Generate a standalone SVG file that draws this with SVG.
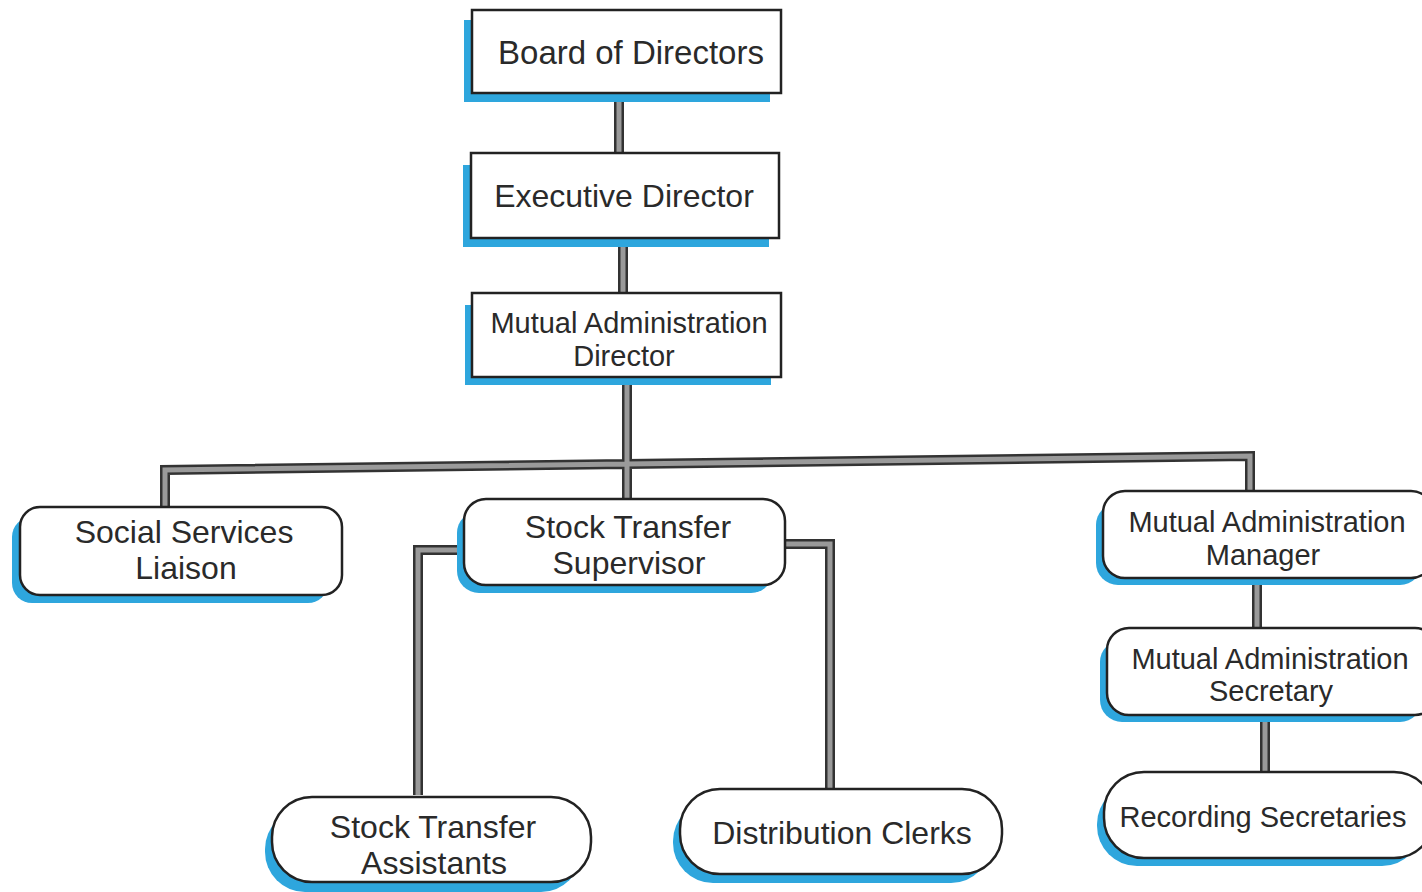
<svg xmlns="http://www.w3.org/2000/svg" width="1422" height="892" viewBox="0 0 1422 892">
<style>
.sh{fill:#2ea6dd}
.bx{fill:#fff;stroke:#222;stroke-width:2.5}
.t{font-family:"Liberation Sans",Arial,sans-serif;font-size:32px;fill:#2a2a2a;text-anchor:middle}
.m{font-size:29px}
.lo{fill:none;stroke:#333;stroke-width:10;stroke-linejoin:miter}
.li{fill:none;stroke:#9a9a9a;stroke-width:5;stroke-linejoin:miter}
</style>
<rect width="1422" height="892" fill="#fff"/>
<g id="connectors">
<path class="lo" d="M619 93V153M623 238V293M627 377V498M165 507V470L1250 456V491M418 795V550H464M785 544H830V789M1257 578V628M1265 715V772"/>
<path class="li" d="M619 93V153M623 238V293M627 377V498M165 507V470L1250 456V491M418 795V550H464M785 544H830V789M1257 578V628M1265 715V772"/>
</g>
<g id="board">
<rect class="sh" x="464" y="20" width="306" height="82"/>
<rect class="bx" x="472" y="10" width="309" height="83"/>
<text class="t" x="631" y="64" style="font-size:33px">Board of Directors</text>
</g>
<g id="exec">
<rect class="sh" x="463" y="165" width="306" height="82"/>
<rect class="bx" x="471" y="153" width="308" height="85"/>
<text class="t" x="624" y="207">Executive Director</text>
</g>
<g id="mad">
<rect class="sh" x="465" y="305" width="306" height="80"/>
<rect class="bx" x="472" y="293" width="309" height="84"/>
<text class="t m" x="629" y="333">Mutual Administration</text>
<text class="t m" x="624" y="366">Director</text>
</g>
<g id="ssl">
<rect class="sh" x="12" y="517" width="316" height="86" rx="20"/>
<rect class="bx" x="20" y="507" width="322" height="88" rx="20"/>
<text class="t" x="184" y="543">Social Services</text>
<text class="t" x="186" y="579">Liaison</text>
</g>
<g id="sts">
<rect class="sh" x="457" y="511" width="316" height="82" rx="22"/>
<rect class="bx" x="464" y="499" width="321" height="86" rx="22"/>
<text class="t" x="628" y="538">Stock Transfer</text>
<text class="t" x="629" y="574">Supervisor</text>
</g>
<g id="mam">
<rect class="sh" x="1096" y="503" width="326" height="82" rx="22"/>
<rect class="bx" x="1103" y="491" width="330" height="87" rx="22"/>
<text class="t m" x="1267" y="532">Mutual Administration</text>
<text class="t m" x="1263" y="565">Manager</text>
</g>
<g id="mas">
<rect class="sh" x="1100" y="640" width="322" height="82" rx="22"/>
<rect class="bx" x="1107" y="628" width="330" height="87" rx="22"/>
<text class="t m" x="1270" y="669">Mutual Administration</text>
<text class="t m" x="1271" y="701">Secretary</text>
</g>
<g id="rs">
<rect class="sh" x="1097" y="784" width="325" height="82" rx="40"/>
<rect class="bx" x="1104" y="772" width="330" height="86" rx="40"/>
<text class="t m" x="1263" y="827">Recording Secretaries</text>
</g>
<g id="sta">
<rect class="sh" x="265" y="809" width="316" height="83" rx="40"/>
<rect class="bx" x="272" y="797" width="319" height="85" rx="40"/>
<text class="t" x="433" y="838">Stock Transfer</text>
<text class="t" x="434" y="874">Assistants</text>
</g>
<g id="dc">
<rect class="sh" x="673" y="801" width="318" height="82" rx="40"/>
<rect class="bx" x="680" y="789" width="322" height="85" rx="40"/>
<text class="t" x="842" y="844">Distribution Clerks</text>
</g>
</svg>
